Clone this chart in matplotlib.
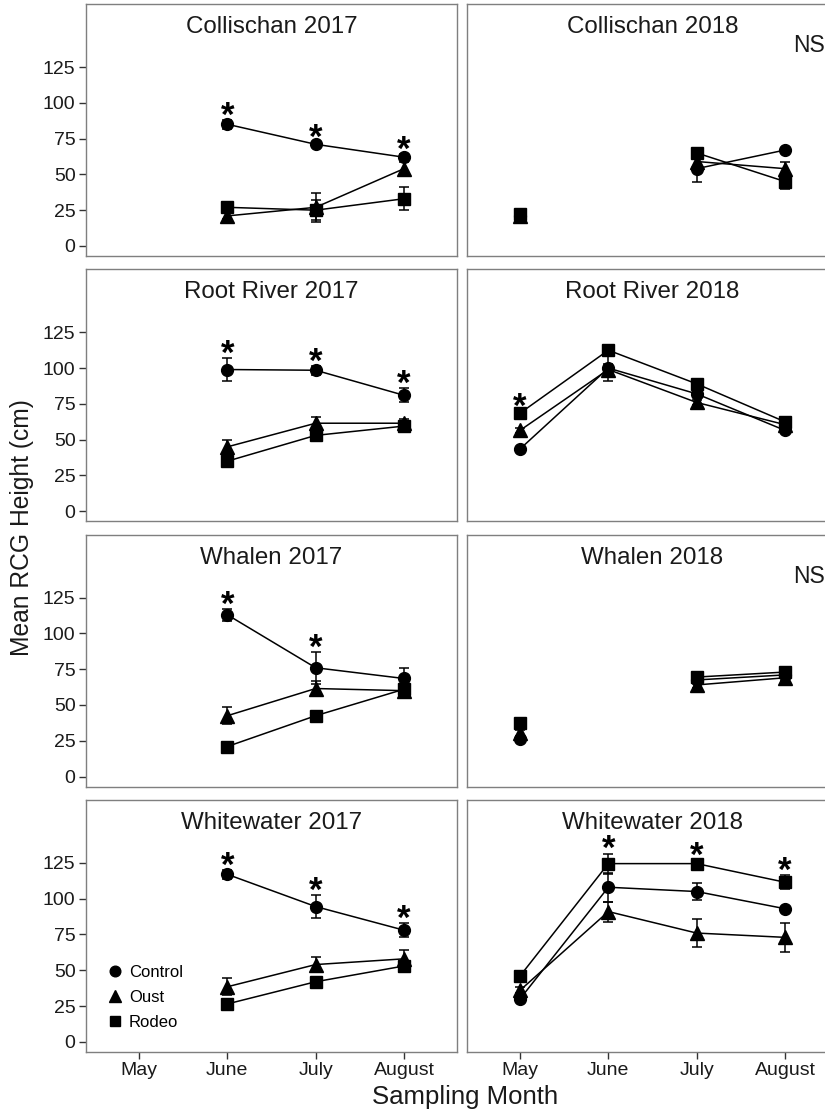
import numpy as np
import matplotlib
matplotlib.use('Agg')
import matplotlib.pyplot as plt
from matplotlib.lines import Line2D

plt.rcParams['font.family'] = ['Liberation Sans', 'DejaVu Sans']

nan = np.nan
months = ['May', 'June', 'July', 'August']
treatments = ['Control', 'Oust', 'Rodeo']
markers = {'Control': 'o', 'Oust': '^', 'Rodeo': 's'}
msizes = {'Control': 8.5, 'Oust': 9.5, 'Rodeo': 8}

# means and standard errors per panel, order: May, June, July, August
collischan_2017 = {'Control': [nan, 85, 71, 62], 'Oust': [nan, 21, 27, 54], 'Rodeo': [nan, 27, 25, 33]}
collischan_2017_se = {'Control': [nan, 3, 1.5, 2], 'Oust': [nan, 2, 10, 5], 'Rodeo': [nan, 2, 7, 8]}
collischan_2018 = {'Control': [21, nan, 54, 67], 'Oust': [21, nan, 59, 54], 'Rodeo': [22, nan, 65, 45]}
collischan_2018_se = {'Control': [2, nan, 9, 1.5], 'Oust': [2, nan, 3, 5], 'Rodeo': [3, nan, 3, 5]}

rootriver_2017 = {'Control': [nan, 99, 98.5, 81], 'Oust': [nan, 45, 61.5, 61.5], 'Rodeo': [nan, 35, 53, 59.5]}
rootriver_2017_se = {'Control': [nan, 8, 3, 5], 'Oust': [nan, 5, 4, 3], 'Rodeo': [nan, 3, 3, 3]}
rootriver_2018 = {'Control': [43.5, 100, 82, 56.5], 'Oust': [56.5, 99, 76, 60.5], 'Rodeo': [68.5, 112.5, 89, 62.5]}
rootriver_2018_se = {'Control': [1.5, 9, 2, 1.5], 'Oust': [1.5, 4, 2, 2], 'Rodeo': [1.5, 2, 3, 2]}

whalen_2017 = {'Control': [nan, 113, 76, 68.5], 'Oust': [nan, 42.5, 61.5, 60], 'Rodeo': [nan, 21, 42.5, 61]}
whalen_2017_se = {'Control': [nan, 4, 11, 7], 'Oust': [nan, 6, 5, 2], 'Rodeo': [nan, 1.5, 1.5, 2]}
whalen_2018 = {'Control': [26, nan, 67.5, 71], 'Oust': [30.5, nan, 64, 69], 'Rodeo': [37.5, nan, 69.5, 73]}
whalen_2018_se = {'Control': [1.5, nan, 2, 2], 'Oust': [2, nan, 2, 2], 'Rodeo': [1.5, nan, 2, 2.5]}

whitewater_2017 = {'Control': [nan, 117, 94.5, 78], 'Oust': [nan, 38.5, 54, 58], 'Rodeo': [nan, 26.5, 42, 53]}
whitewater_2017_se = {'Control': [nan, 3, 8, 5], 'Oust': [nan, 6, 5, 6], 'Rodeo': [nan, 2, 2, 3]}
whitewater_2018 = {'Control': [30, 108, 105, 93], 'Oust': [36, 91, 76, 73], 'Rodeo': [46, 124.5, 124.5, 111.5]}
whitewater_2018_se = {'Control': [2, 10, 6, 1.5], 'Oust': [2, 7, 10, 10], 'Rodeo': [2, 7, 2.5, 5]}

panels = [
    ('Collischan 2017', collischan_2017, collischan_2017_se, [1, 2, 3], False),
    ('Collischan 2018', collischan_2018, collischan_2018_se, [], True),
    ('Root River 2017', rootriver_2017, rootriver_2017_se, [1, 2, 3], False),
    ('Root River 2018', rootriver_2018, rootriver_2018_se, [0], False),
    ('Whalen 2017', whalen_2017, whalen_2017_se, [1, 2], False),
    ('Whalen 2018', whalen_2018, whalen_2018_se, [], True),
    ('Whitewater 2017', whitewater_2017, whitewater_2017_se, [1, 2, 3], False),
    ('Whitewater 2018', whitewater_2018, whitewater_2018_se, [1, 2, 3], False),
]

W, H = 825, 1111
fig = plt.figure(figsize=(W / 100, H / 100), dpi=100)

x = np.arange(len(months))
edge = '#7f7f7f'
txt = '#1a1a1a'

for i, (title, means, ses, stars, ns) in enumerate(panels):
    row, col = divmod(i, 2)
    left = (86 if col == 0 else 467) / W
    top = 4 + row * 265.3
    ax = fig.add_axes([left, 1 - (top + 252) / H, 371 / W, 252 / H])

    for t in treatments:
        m = np.array(means[t], dtype=float)
        s = np.array(ses[t], dtype=float)
        ax.errorbar(x, m, yerr=s, fmt='none', ecolor='black', elinewidth=1.1,
                    capsize=3.5, capthick=1.1, zorder=2)
        ax.plot(x, m, color='black', lw=1.1, zorder=3)
        ax.plot(x, m, ls='none', marker=markers[t], ms=msizes[t],
                color='black', zorder=4)

    for k in stars:
        tops = [means[t][k] + ses[t][k] for t in treatments]
        ax.text(x[k], np.nanmax(tops) - 4, '*', ha='center', va='baseline',
                fontsize=25, fontweight='bold', color='black')

    if ns:
        ax.text(3.27, 140, 'NS', ha='center', va='center', fontsize=16.5, color=txt)

    ax.text(0.5, 1 - 23 / 252, title, transform=ax.transAxes, ha='center',
            va='center', fontsize=17.4, color=txt)

    ax.set_xlim(-0.6, 3.6)
    ax.set_ylim(-7, 169)
    ax.set_xticks(x)
    ax.set_yticks([0, 25, 50, 75, 100, 125])
    for sp in ax.spines.values():
        sp.set_color(edge)
        sp.set_linewidth(1.0)
    ax.tick_params(axis='both', colors='#333333', labelcolor=txt, length=5,
                   width=1.0, labelsize=14, pad=2.5)
    if col == 0:
        ax.set_yticklabels([0, 25, 50, 75, 100, 125])
    else:
        ax.tick_params(axis='y', left=False, labelleft=False)
    if row == 3:
        ax.set_xticklabels(months)
    else:
        ax.tick_params(axis='x', bottom=False, labelbottom=False)

    if title == 'Whitewater 2017':
        handles = [Line2D([], [], ls='none', marker=markers[t], color='black',
                          ms=msizes[t] * 0.9) for t in treatments]
        ax.legend(handles, treatments, loc='lower left', bbox_to_anchor=(0.03, 0.06),
                  frameon=False, fontsize=12, handletextpad=0.1,
                  labelspacing=0.6, borderaxespad=0, handlelength=1.4)

fig.text(22 / W, 1 - 528 / H, 'Mean RCG Height (cm)', rotation=90, ha='center',
         va='center', fontsize=17.7, color=txt)
fig.text(465 / W, 1 - 1097 / H, 'Sampling Month', ha='center', va='center',
         fontsize=18.5, color=txt)

fig.savefig('out.png', dpi=100)
